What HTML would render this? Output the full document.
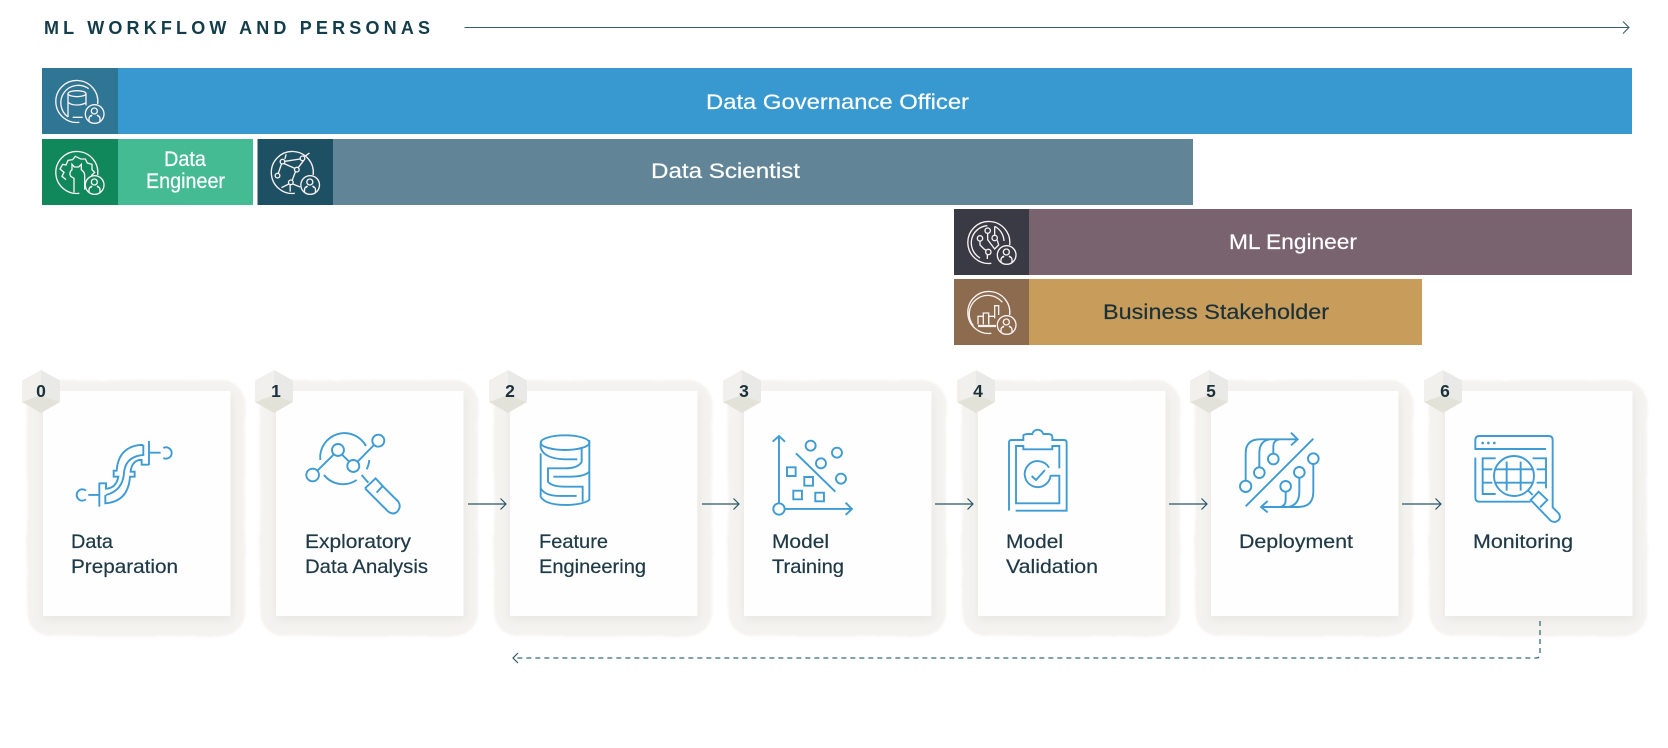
<!DOCTYPE html>
<html lang="en">
<head>
<meta charset="utf-8">
<title>ML Workflow and Personas</title>
<style>
html,body{margin:0;padding:0;background:#fff;width:1668px;height:748px;overflow:hidden}
svg{display:block}
text{font-family:"Liberation Sans",sans-serif}
.lb{font-size:19.5px;fill:#1f3a46;stroke:#1f3a46;stroke-width:.22}
.pt{font-size:21.5px;stroke-width:.2}
.num{font-size:17.5px;font-weight:700;fill:#1b3139;text-anchor:middle}
.ic *{fill:none;stroke:#3f9bd3;stroke-width:1.9;vector-effect:non-scaling-stroke}
.ic .f{fill:#3f9bd3;stroke:none}
.pi *,#usr *{fill:none;stroke:#f8f1f1;stroke-width:1.35;vector-effect:non-scaling-stroke}
.pi .s{stroke-width:2.2}
.conn{fill:none;stroke:#2a5667;stroke-width:1.2}
</style>
</head>
<body>
<svg width="1668" height="748" viewBox="0 0 1668 748" xmlns="http://www.w3.org/2000/svg">
<defs>
<filter id="b1" x="-10%" y="-10%" width="120%" height="120%">
<feTurbulence type="fractalNoise" baseFrequency="0.035" numOctaves="2" seed="4" result="n"/>
<feDisplacementMap in="SourceGraphic" in2="n" scale="3" result="d"/>
<feGaussianBlur in="d" stdDeviation="1.1"/>
</filter>
<filter id="b2" x="-15%" y="-15%" width="130%" height="130%"><feGaussianBlur stdDeviation="5"/></filter>
<g id="card">
<rect x="-16" y="-11" width="218" height="256" rx="24" fill="#f4f3f0" filter="url(#b1)"/>
<rect x="0" y="4" width="189" height="225" fill="#e7e6e2" filter="url(#b2)"/>
<rect x="0" y="0" width="187.500" height="225" fill="#fefefe"/>
<polygon points="-2,-21 -21,-10.500 -21,11 -2,4" fill="#f1f0ec"/>
<polygon points="-2,-21 17,-10.500 17,11 -2,4" fill="#e9e9e8"/>
<polygon points="-21,11 -2,22 17,11 -2,4" fill="#e3e2d8"/>
</g>
<g id="usr">
<path d="M112 163 A63 63 0 1 1 167 108"/>
<circle cx="158" cy="138" r="28"/>
<circle cx="157" cy="129" r="9"/>
<path d="M141 160 V152 Q141 145 150 141 M174 160 V152 Q174 145 165 141 M150 141 L146 146 M165 141 L170 146"/>
</g>
<path id="chev" d="M-5.500 -5.500 L0 0 L-5.500 5.500" fill="none" stroke="#2a5667" stroke-width="1.2"/>
</defs>

<!-- Header -->
<text x="44" y="34" font-size="18" font-weight="700" fill="#143d4a" textLength="386" lengthAdjust="spacing">ML WORKFLOW AND PERSONAS</text>
<path d="M464.500 27.500 H1628" fill="none" stroke="#3c5c68" stroke-width="1.100"/>
<path d="M1623 21.500 L1629 27.500 L1623 33.500" fill="none" stroke="#3c5c68" stroke-width="1.100"/>

<!-- Persona bars -->
<rect x="42" y="68" width="1590" height="66" fill="#3899d1"/>
<rect x="42" y="68" width="76" height="66" fill="#2f7594"/>
<rect x="42" y="139" width="76" height="66" fill="#10885c"/>
<rect x="118" y="139" width="135" height="66" fill="#44bb92"/>
<rect x="257.500" y="139" width="75.500" height="66" fill="#1e5063"/>
<rect x="333" y="139" width="860" height="66" fill="#618596"/>
<rect x="954" y="209" width="75" height="66" fill="#3a3a45"/>
<rect x="1029" y="209" width="603" height="66" fill="#79636f"/>
<rect x="954" y="279" width="75" height="66" fill="#8c6b4e"/>
<rect x="1029" y="279" width="393" height="66" fill="#c89c5a"/>

<text class="pt" x="706" y="109" fill="#fff" stroke="#fff" textLength="263" lengthAdjust="spacingAndGlyphs">Data Governance Officer</text>
<text class="pt" x="164" y="166" fill="#fff" stroke="#fff" textLength="42" lengthAdjust="spacingAndGlyphs">Data</text>
<text class="pt" x="146" y="188" fill="#fff" stroke="#fff" textLength="79" lengthAdjust="spacingAndGlyphs">Engineer</text>
<text class="pt" x="651" y="178" fill="#fff" stroke="#fff" textLength="149" lengthAdjust="spacingAndGlyphs">Data Scientist</text>
<text class="pt" x="1229" y="249" fill="#fff" stroke="#fff" textLength="128" lengthAdjust="spacingAndGlyphs">ML Engineer</text>
<text class="pt" x="1103" y="319" fill="#1b3139" stroke="#1b3139" textLength="226" lengthAdjust="spacingAndGlyphs">Business Stakeholder</text>

<!-- Persona icons -->
<g class="pi" transform="translate(42,68) scale(.3333)">
<use href="#usr"/>
<path d="M78 147 A50 50 0 0 1 140 62"/>
<ellipse cx="105" cy="77" rx="27" ry="9"/>
<path d="M78 77 V147 M132 77 V112 M78 102 Q85 111 105 111 Q120 111 132 104 M92 148 H122"/>
</g>
<g class="pi" transform="translate(42,139) scale(.3333)">
<use href="#usr"/>
<path d="M128 152 V108 Q128 100 118 92 V76 L110 84 H97 L90 76 V92 Q80 100 86 112 L96 118 V160"/>
<path d="M72 122 L60 112 L66 100 L54 90 L62 76 L72 78 L78 64 L92 62 L100 52 L116 60 L130 60 L136 72 L150 76 L150 92 L158 100 L148 110"/>
</g>
<g class="pi" transform="translate(257.500,139) scale(.3333)">
<use href="#usr"/>
<circle cx="75" cy="68" r="7"/><circle cx="135" cy="58" r="7"/><circle cx="118" cy="92" r="7"/><circle cx="60" cy="110" r="7"/><circle cx="100" cy="130" r="7"/>
<path d="M82 67 L128 60 M80 74 L112 88 M72 75 L62 104 M138 65 L122 86 M114 98 L104 124 M82 60 L86 46 M142 52 L156 42 M94 135 L72 146 M106 135 L128 144 M98 137 V158"/>
</g>
<g class="pi" transform="translate(954,209) scale(.3333)">
<use href="#usr"/>
<path d="M78 147 A52 52 0 0 1 100 50"/>
<circle cx="101" cy="65" r="8"/><circle cx="78" cy="88" r="8"/><circle cx="122" cy="87" r="8"/><circle cx="103" cy="129" r="8"/>
<path d="M101 73 V92 L122 120 L134 108 L130 94 M122 79 V52 M78 96 V108 L90 120 L96 124 M100 137 V150 M122 52 A52 52 0 0 1 150 96"/>
</g>
<g class="pi" transform="translate(954,279) scale(.3333)">
<use href="#usr"/>
<path d="M58 140 A52 52 0 0 1 145 70"/>
<path d="M72 136 V112 H88 V136 M88 136 V102 H104 V136 M122 118 V80 H134 V108"/>
<path d="M104 136 V112 H120"/>
<path class="s" d="M72 141 H126"/>
</g>

<!-- Cards -->
<use href="#card" x="43" y="391"/>
<use href="#card" x="276" y="391"/>
<use href="#card" x="510" y="391"/>
<use href="#card" x="744" y="391"/>
<use href="#card" x="978" y="391"/>
<use href="#card" x="1211" y="391"/>
<use href="#card" x="1445" y="391"/>

<text class="num" x="41" y="397">0</text>
<text class="num" x="276" y="397">1</text>
<text class="num" x="510" y="397">2</text>
<text class="num" x="744" y="397">3</text>
<text class="num" x="978" y="397">4</text>
<text class="num" x="1211" y="397">5</text>
<text class="num" x="1445" y="397">6</text>

<!-- Card labels -->
<text class="lb" x="71" y="548" textLength="42" lengthAdjust="spacingAndGlyphs">Data</text>
<text class="lb" x="71" y="573" textLength="107" lengthAdjust="spacingAndGlyphs">Preparation</text>
<text class="lb" x="305" y="548" textLength="106" lengthAdjust="spacingAndGlyphs">Exploratory</text>
<text class="lb" x="305" y="573" textLength="123" lengthAdjust="spacingAndGlyphs">Data Analysis</text>
<text class="lb" x="539" y="548" textLength="69" lengthAdjust="spacingAndGlyphs">Feature</text>
<text class="lb" x="539" y="573" textLength="107" lengthAdjust="spacingAndGlyphs">Engineering</text>
<text class="lb" x="772" y="548" textLength="57" lengthAdjust="spacingAndGlyphs">Model</text>
<text class="lb" x="772" y="573" textLength="72" lengthAdjust="spacingAndGlyphs">Training</text>
<text class="lb" x="1006" y="548" textLength="57" lengthAdjust="spacingAndGlyphs">Model</text>
<text class="lb" x="1006" y="573" textLength="92" lengthAdjust="spacingAndGlyphs">Validation</text>
<text class="lb" x="1239" y="548" textLength="114" lengthAdjust="spacingAndGlyphs">Deployment</text>
<text class="lb" x="1473" y="548" textLength="100" lengthAdjust="spacingAndGlyphs">Monitoring</text>

<!-- Card icons -->
<g class="ic" transform="translate(0,360) scale(.3333)">
<path d="M447 243 V315 M447 278 H482 M490 264 A17 17 0 1 1 490 294"/>
<path d="M298 368 V440 M298 405 H265 M258 392 A17 17 0 1 0 258 418"/>
<path d="M430 255 H420 Q355 262 350 332 H341 V350 H355 Q348 385 318 386 V370 H298"/>
<path d="M447 314 H425 V300 H418 Q395 305 392 335 H404 V350 H390 Q385 425 316 430 V405"/>
<path d="M430 255 V285 Q375 290 372 340 Q368 392 318 405"/>
</g>
<g class="ic" transform="translate(0,360) scale(.3333)">
<circle cx="938" cy="345" r="19"/><circle cx="1014" cy="270" r="18"/><circle cx="1060" cy="318" r="18"/><circle cx="1135" cy="242" r="18"/>
<path d="M952 332 L1000 285 M1026 284 L1047 304 M1074 304 L1122 255"/>
<path d="M961 300 A73 73 0 0 1 1098 258 M1108 300 A73 73 0 0 1 1100 328 M972 345 A73 73 0 0 0 1070 360"/>
<path d="M1085 345 L1105 368 M1095 385 L1127 355 L1148 378 L1130 398 M1095 385 L1165 455 Q1180 466 1192 455 Q1205 440 1195 425 L1148 378"/>
</g>
<g class="ic" transform="translate(480,360) scale(.3333)">
<ellipse cx="255" cy="248" rx="73" ry="22"/>
<path d="M182 250 V262 Q190 296 255 298 H292"/>
<path d="M182 280 V410 Q195 434 255 435 Q305 435 328 420 V240"/>
<path d="M305 265 V305 Q295 325 255 325 H204 V365 Q215 380 255 380 H308 V425"/>
<path d="M220 350 H270 Q315 350 328 335"/>
<path d="M182 385 Q195 408 240 408 H290"/>
</g>
<g class="ic" transform="translate(480,360) scale(.3333)">
<circle cx="897" cy="447" r="17"/>
<path d="M897 430 V230 M878 245 L897 228 L915 245 M914 447 H1115 M1097 428 L1116 447 L1097 465 M948 280 L1066 395"/>
<circle cx="992" cy="257" r="15"/><circle cx="1071" cy="278" r="15"/><circle cx="1023" cy="310" r="15"/><circle cx="1083" cy="356" r="15"/>
<rect x="921" y="322" width="26" height="26"/><rect x="973" y="351" width="26" height="26"/><rect x="940" y="392" width="26" height="26"/><rect x="1006" y="398" width="26" height="26"/>
</g>
<g class="ic" transform="translate(990,420) scale(.3333)">
<path d="M57 272 V68 Q57 60 65 60 H100 V47 Q100 43 112 42 H127 Q130 30 143 29 Q156 30 160 42 H175 Q187 43 187 50 V60 H222 Q230 60 230 68 V272 H77"/>
<path d="M103 78 H78 V250 H208 V167 H182 M208 145 V78 H187 V88 H100 V78"/>
<path d="M177 143 A39 39 0 1 0 182 165"/>
<path d="M125 168 L138 180 L165 150"/>
</g>
<g class="ic" transform="translate(1225,420) scale(.3333)">
<path d="M198 38 L218 58 L198 76 M218 58 H105 Q62 58 62 100 V182 M103 142 V100 Q103 62 135 58 M145 100 V80 Q145 60 165 58"/>
<circle cx="62" cy="199" r="17"/><circle cx="103" cy="158" r="16"/><circle cx="145" cy="117" r="16"/>
<path d="M62 259 L265 56"/>
<path d="M128 243 L108 261 L128 277 M108 261 H220 Q265 261 265 215 V132 M223 173 V215 Q223 255 190 261 M182 216 V240 Q182 258 165 261"/>
<circle cx="265" cy="116" r="16"/><circle cx="223" cy="157" r="16"/><circle cx="182" cy="199" r="16"/>
</g>
<g class="ic" transform="translate(1460,420) scale(.3333)">
<path d="M258 87 H46 V60 Q46 48 58 48 H266 Q278 48 278 60 V262 L296 280 Q304 292 295 301 Q285 310 272 302 L212 240 L236 215 L262 240 L240 262"/>
<path d="M46 113 V232 Q46 245 58 245 H212"/>
<circle class="f" cx="68" cy="69" r="4"/><circle class="f" cx="85" cy="69" r="4"/><circle class="f" cx="103" cy="69" r="4"/>
<circle cx="162" cy="168" r="60"/>
<path d="M140 125 V212 M182 125 V212 M105 148 H220 M105 188 H220"/>
<path d="M107 115 H68 V222 H107 M68 148 H97 M68 188 H97 M218 115 H258 V205 M230 148 H258 M230 188 H258 M203 210 L218 225"/>
</g>

<!-- Connectors -->
<path class="conn" d="M468 504 H506 M702 504 H739 M935 504 H973 M1169 504 H1207 M1402 504 H1441"/>
<use href="#chev" x="506" y="504"/>
<use href="#chev" x="739" y="504"/>
<use href="#chev" x="973" y="504"/>
<use href="#chev" x="1207" y="504"/>
<use href="#chev" x="1441" y="504"/>
<path d="M1540 621 V654 Q1540 658 1536 658 H514" fill="none" stroke="#3a6a7b" stroke-width="1.300" stroke-dasharray="5 4"/>
<path d="M518 653 L513 658 L518 663" fill="none" stroke="#2a5667" stroke-width="1.200"/>
</svg>
</body>
</html>
